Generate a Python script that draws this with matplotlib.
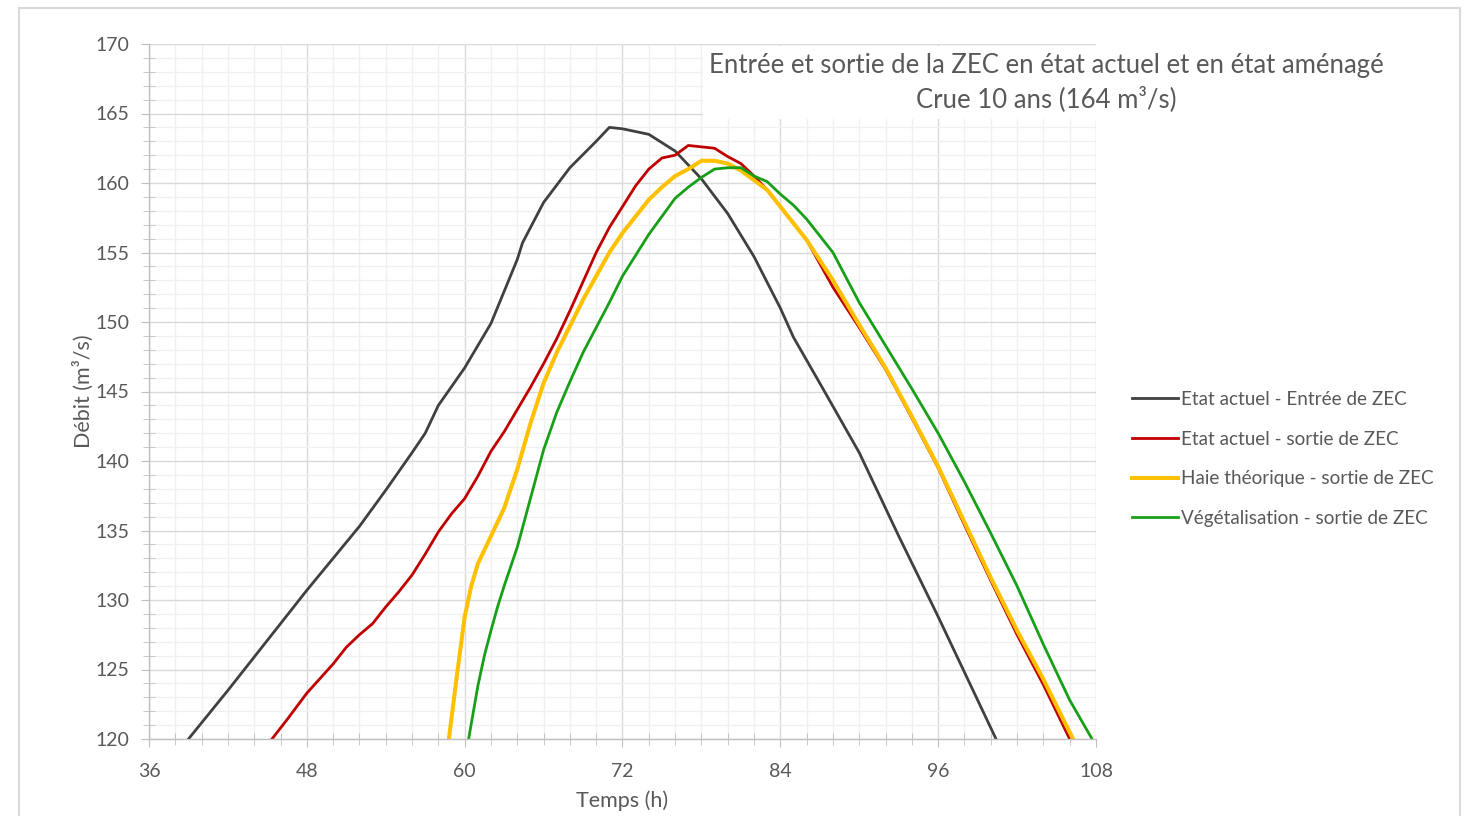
import matplotlib
matplotlib.use("Agg")
import matplotlib.pyplot as plt
from matplotlib.patches import Rectangle
from matplotlib.ticker import MultipleLocator

plt.rcParams['font.family'] = ['Lato', 'DejaVu Sans']

# --- data (time in h, discharge in m3/s) ---
t_entree = [39.0, 42, 45, 48, 50, 52, 54, 56, 57, 58, 60, 62, 64, 64.4, 66, 68, 70, 71,
            72, 74, 76, 78, 80, 82, 84, 85, 87, 90, 93, 96, 99, 100.4]
q_entree = [120.0, 123.5, 127.1, 130.7, 133.0, 135.3, 137.9, 140.6, 142.0, 144.0, 146.7,
            149.9, 154.5, 155.7, 158.6, 161.1, 163.0, 164.0, 163.9, 163.5, 162.3, 160.3,
            157.8, 154.7, 151.0, 148.9, 145.6, 140.6, 134.6, 128.8, 122.8, 120.0]

t_sortie = [45.35, 46.5, 48, 50, 51, 52, 53, 54, 55, 56, 57, 58, 59, 60, 61, 62, 63, 64,
            65, 66, 67, 68, 69, 70, 71, 72, 73, 74, 75, 76, 77, 78, 79, 80, 81, 82, 83,
            84, 86, 88, 90, 92, 94, 96, 98, 100, 102, 104, 106]
q_sortie = [120.0, 121.4, 123.3, 125.4, 126.6, 127.5, 128.3, 129.5, 130.6, 131.8, 133.3,
            134.9, 136.2, 137.3, 138.9, 140.7, 142.1, 143.7, 145.3, 147.0, 148.8, 150.8,
            152.9, 155.0, 156.8, 158.3, 159.8, 161.0, 161.8, 162.0, 162.7, 162.6, 162.5,
            161.9, 161.4, 160.5, 159.5, 158.3, 155.9, 152.5, 149.6, 146.6, 143.1, 139.5,
            135.4, 131.4, 127.5, 123.9, 120.0]

t_haie = [58.8, 59.4, 60, 60.5, 61, 62, 63, 64, 65, 66, 67, 68, 69, 70, 71, 72, 73, 74,
          75, 76, 77, 78, 79, 80, 81, 82, 83, 84, 86, 88, 90, 92, 94, 96, 98, 100, 102,
          104, 106.25]
q_haie = [120.0, 124.5, 128.8, 131.0, 132.6, 134.6, 136.6, 139.4, 142.7, 145.6, 147.8,
          149.7, 151.6, 153.3, 155.0, 156.4, 157.6, 158.8, 159.7, 160.5, 161.0, 161.6,
          161.6, 161.4, 160.9, 160.2, 159.5, 158.3, 155.9, 153.0, 149.8, 146.7, 143.2,
          139.6, 135.6, 131.6, 127.8, 124.3, 120.0]

t_veget = [60.3, 61, 61.5, 62, 62.5, 63, 64, 65, 66, 67, 68, 69, 70, 71, 72, 73, 74, 75,
           76, 77, 78, 79, 80, 81, 82, 83, 84, 85, 86, 88, 90, 92, 94, 96, 98, 100, 102,
           104, 106, 107.7]
q_veget = [120.0, 123.8, 126.0, 127.8, 129.5, 131.0, 133.8, 137.3, 140.8, 143.5, 145.7,
           147.8, 149.6, 151.4, 153.3, 154.8, 156.3, 157.6, 158.9, 159.7, 160.4, 161.0,
           161.1, 161.1, 160.5, 160.1, 159.2, 158.4, 157.4, 155.0, 151.4, 148.3, 145.2,
           142.0, 138.5, 134.8, 131.0, 126.8, 122.8, 120.0]

labels = ["Etat actuel - Entrée de ZEC", "Etat actuel - sortie de ZEC",
          "Haie théorique - sortie de ZEC", "Végétalisation - sortie de ZEC"]

W, H = 1466, 816
fig = plt.figure(figsize=(W / 100, H / 100), dpi=100)
ax = fig.add_axes([149 / W, 1 - 739 / H, (1096 - 149) / W, (739 - 44) / H])

ax.plot(t_entree, q_entree, color='#404040', lw=2.0, label=labels[0])
ax.plot(t_sortie, q_sortie, color='#c00000', lw=2.0, label=labels[1])
ax.plot(t_haie, q_haie, color='#ffc000', lw=2.9, label=labels[2])
ax.plot(t_veget, q_veget, color='#17a017', lw=2.0, label=labels[3])

ax.set_xlim(36, 108)
ax.set_ylim(120, 170)
ax.xaxis.set_major_locator(MultipleLocator(12))
ax.xaxis.set_minor_locator(MultipleLocator(2))
ax.yaxis.set_major_locator(MultipleLocator(5))
ax.yaxis.set_minor_locator(MultipleLocator(1))

ax.grid(which='major', color='#d9d9d9', lw=1.0)
ax.grid(which='minor', color='#f0f0f0', lw=1.0)
ax.set_axisbelow(True)

for s in ['top', 'right']:
    ax.spines[s].set_visible(False)
for s in ['left', 'bottom']:
    ax.spines[s].set_color('#bfbfbf')
    ax.spines[s].set_linewidth(1.0)

ax.tick_params(which='major', direction='out', length=6, color='#bfbfbf',
               labelcolor='#595959', labelsize=14)
ax.tick_params(axis='x', which='major', pad=11)
ax.tick_params(axis='y', which='major', pad=8)
ax.tick_params(which='minor', direction='inout', length=8, color='#bfbfbf')

ax.set_xlabel("Temps (h)", fontsize=15.5, color='#595959', labelpad=8)
ax.set_ylabel("Débit (m³/s)", fontsize=15.5, color='#595959', labelpad=1)

# white title box sitting over the upper right of the plot area
fig.add_artist(Rectangle((703 / W, 1 - 119 / H), (1099 - 703) / W, (119 - 46) / H,
                         transform=fig.transFigure, facecolor='white',
                         edgecolor='none', zorder=1))
fig.text(1046 / W, 1 - 66 / H, "Entrée et sortie de la ZEC en état actuel et en état aménagé",
         ha='center', va='center', fontsize=18.5, color='#595959', zorder=2)
fig.text(1046 / W, 1 - 99 / H, "Crue 10 ans (164 m³/s)",
         ha='center', va='center', fontsize=18.5, color='#595959', zorder=2)

leg = ax.legend(loc='center left', bbox_to_anchor=(1115 / W, 1 - 459 / H),
                bbox_transform=fig.transFigure, frameon=False, fontsize=13.6,
                handlelength=2.45, handletextpad=0.12, labelspacing=1.2)
for txt in leg.get_texts():
    txt.set_color('#595959')

# chart border
fig.add_artist(Rectangle((19 / W, -0.01), (1460 - 19) / W, 1 - 8 / H + 0.01,
                         transform=fig.transFigure, facecolor='none',
                         edgecolor='#d9d9d9', lw=1.5, zorder=3))

fig.savefig("out.png", dpi=100)
